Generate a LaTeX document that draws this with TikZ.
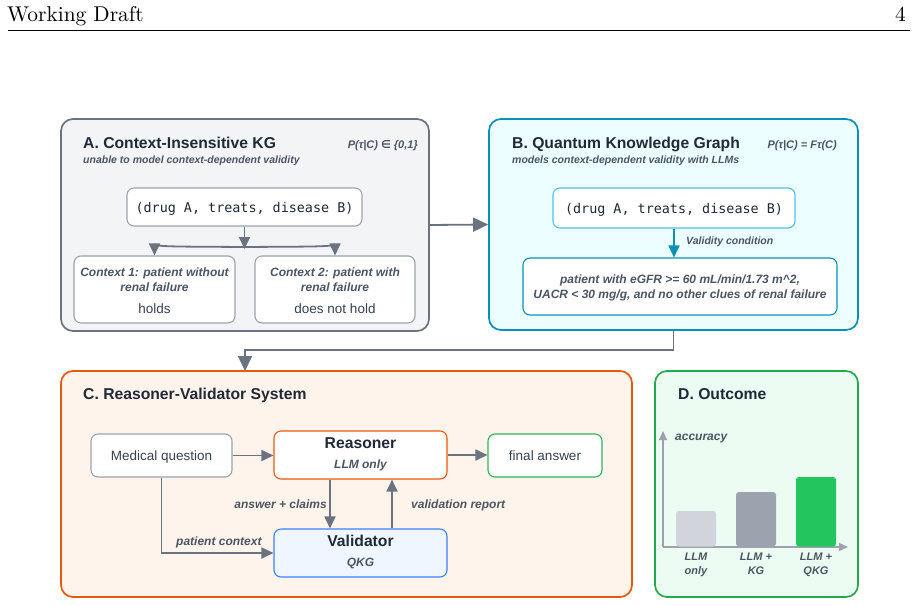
\documentclass[tikz,border=0pt]{standalone}
\usepackage{fontspec}
\usetikzlibrary{arrows.meta}
\newfontfamily\lsans{Liberation Sans}
\newfontfamily\dmono{DejaVu Sans Mono}
\newfontfamily\djv{DejaVu Sans}
\newfontfamily\lmten{lmroman10-regular.otf}
\definecolor{txtdark}{HTML}{1F2937}
\definecolor{txtmid}{HTML}{4B5563}
\definecolor{txtreg}{HTML}{374151}
\definecolor{arrgray}{HTML}{6B7280}
\definecolor{boxgray}{HTML}{9CA3AF}
\definecolor{paFill}{HTML}{F3F4F6}
\definecolor{paDraw}{HTML}{6B7280}
\definecolor{pbFill}{HTML}{ECFEFF}
\definecolor{pbDraw}{HTML}{0891B2}
\definecolor{tbDraw}{HTML}{4CC3EC}
\definecolor{pcFill}{HTML}{FFF4EB}
\definecolor{pcDraw}{HTML}{EA580C}
\definecolor{vFill}{HTML}{EFF6FF}
\definecolor{vDraw}{HTML}{3B82F6}
\definecolor{pdFill}{HTML}{EDFCF2}
\definecolor{pdDraw}{HTML}{22A94B}
\definecolor{finDraw}{HTML}{2FB35A}
\definecolor{barA}{HTML}{D1D5DB}
\definecolor{barB}{HTML}{9CA3AF}
\definecolor{barC}{HTML}{22C55E}
\tikzset{
  panel/.style={rounded corners=12, line width=1.7, inner sep=0},
  box/.style={rounded corners=7, line width=1.1, fill=white, inner sep=0},
  arr/.style={-{Triangle[length=12pt,width=11pt]}, line width=1.8, draw=arrgray},
  bigarr/.style={-{Triangle[length=15pt,width=14pt]}, line width=1.8, draw=arrgray},
  axisline/.style={-{Triangle[length=9pt,width=8pt]}, line width=1.1, draw=boxgray},
  ttl/.style={font=\lsans\bfseries\fontsize{15.7}{18}\selectfont, text=txtdark, anchor=base west, inner sep=0},
  subt/.style={font=\lsans\bfseries\itshape\fontsize{10.5}{12}\selectfont, text=txtmid, inner sep=0},
  frm/.style={font=\lsans\bfseries\itshape\fontsize{11}{13}\selectfont, text=txtmid, inner sep=0},
  lbl/.style={font=\lsans\bfseries\itshape\fontsize{12}{14}\selectfont, text=txtmid, inner sep=0, anchor=mid},
  reg/.style={font=\lsans\fontsize{13.5}{16}\selectfont, text=txtreg, inner sep=0, anchor=mid},
  boxttl/.style={font=\lsans\bfseries\fontsize{15.7}{18}\selectfont, text=txtdark, inner sep=0, anchor=mid},
  mono/.style={font=\dmono\fontsize{13.4}{16}\selectfont, text=txtdark, inner sep=0, anchor=mid},
  barlbl/.style={font=\lsans\bfseries\itshape\fontsize{11}{13}\selectfont, text=txtmid, inner sep=0, anchor=mid},
}
\begin{document}
\begin{tikzpicture}[x=1pt,y=-1pt]
\useasboundingbox (0,0) rectangle (917,605);
% header
\node[anchor=base west, inner sep=0, font=\lmten\fontsize{21.4}{24}\selectfont] (hdr) at (7,21.5) {Working Draft};
\node[anchor=base east, inner sep=0, font=\lmten\fontsize{21.4}{24}\selectfont] (pg) at (906,21.5) {4};
\draw[line width=0.9] (8,30.5) -- (910,30.5);

% ---------- Panel A ----------
\node[panel, draw=paDraw, fill=paFill, minimum width=368, minimum height=212] (A) at (245,225) {};
\node[ttl] (Attl) at (83,148) {A. Context-Insensitive KG};
\node[subt, anchor=base west] (Asub) at (83,163) {unable to model context-dependent validity};
\node[frm, anchor=base east] (Aform) at (418,148) {P(τ|C) {\djv\bfseries\itshape ∈} \{0,1\}};
\node[box, draw=boxgray, minimum width=235, minimum height=38] (tripA) at (244.5,207) {};
\node[mono] (tripAt) at (244.5,210) {(drug A, treats, disease B)};
\node[box, draw=boxgray, minimum width=161, minimum height=67] (ctx1) at (154.5,289.5) {};
\node[box, draw=boxgray, minimum width=160, minimum height=67] (ctx2) at (335,289.5) {};
\node[lbl] (c1a) at (154.5,274.5) {Context 1: patient without};
\node[lbl] (c1b) at (154.5,289.5) {renal failure};
\node[reg] (c1c) at (154.5,311) {holds};
\node[lbl] (c2a) at (335,274.5) {Context 2: patient with};
\node[lbl] (c2b) at (335,289.5) {renal failure};
\node[reg] (c2c) at (335,311) {does not hold};
\coordinate (split) at (244.5,247);
\draw[arr] (tripA.south) -- (244.5,249);
\draw[arr] (split) .. controls (180,246.5) and (154.5,247) .. (ctx1.north);
\draw[arr] (split) .. controls (309,246.5) and (335,247) .. (ctx2.north);

% ---------- Panel B ----------
\node[panel, draw=pbDraw, fill=pbFill, minimum width=369, minimum height=211] (B) at (673.5,224.5) {};
\node[ttl] (Bttl) at (512,148) {B. Quantum Knowledge Graph};
\node[subt, anchor=base west] (Bsub) at (512,163) {models context-dependent validity with LLMs};
\node[frm, anchor=base east] (Bform) at (837,148) {P(τ|C) = Fτ(C)};
\node[box, draw=tbDraw, minimum width=242, minimum height=40] (tripB) at (674,208) {};
\node[mono] (tripBt) at (674,211) {(drug A, treats, disease B)};
\node[box, draw=pbDraw, minimum width=314, minimum height=57] (cond) at (680,286.5) {};
\node[lbl] (cond1) at (680,281.5) {patient with eGFR >= 60 mL/min/1.73 m\textasciicircum 2,};
\node[lbl] (cond2) at (680,296.5) {UACR < 30 mg/g, and no other clues of renal failure};
\draw[-{Triangle[length=12pt,width=11pt]}, line width=1.8, draw=pbDraw, fill=pbDraw] (tripB.south) -- (cond.north -| tripB.south);
\node[subt, anchor=mid west] (vc) at (686,242) {Validity condition};

% A -> B
\draw[bigarr] (A.east) -- (B.west);

% ---------- Panel C ----------
\node[panel, draw=pcDraw, fill=pcFill, minimum width=571, minimum height=226] (C) at (346.5,484) {};
\node[ttl] (Cttl) at (83,399) {C. Reasoner-Validator System};
\node[box, draw=boxgray, minimum width=141, minimum height=43] (medq) at (161.5,455.5) {};
\node[reg] (medqt) at (161.5,458) {Medical question};
\node[box, draw=pcDraw, minimum width=173, minimum height=48] (reas) at (360.5,455) {};
\node[boxttl] (reast) at (360.5,446.5) {Reasoner};
\node[lbl] (reass) at (360.5,466.5) {LLM only};
\node[box, draw=finDraw, minimum width=114, minimum height=43] (fin) at (545,455.5) {};
\node[reg] (fint) at (545,458) {final answer};
\node[box, draw=vDraw, fill=vFill, minimum width=173, minimum height=48] (val) at (360.5,553) {};
\node[boxttl] (valt) at (360.5,544.5) {Validator};
\node[lbl] (vals) at (360.5,564.5) {QKG};
\draw[arr] (medq.east) -- (reas.west |- medq.east);
\draw[arr] (reas.east) -- (fin.west |- reas.east);
\draw[arr] (reas.south -| 330,0) -- (val.north -| 330,0);
\draw[arr] (val.north -| 392,0) -- (reas.south -| 392,0);
\draw[arr] (medq.south) |- (val.west);
\node[lbl, anchor=mid east] (ac) at (327,506.5) {answer + claims};
\node[lbl, anchor=mid west] (vr) at (411,506.5) {validation report};
\node[lbl, anchor=mid west] (pc) at (176,543) {patient context};

% B -> C
\coordinate (cTop) at (245,371);
\draw[bigarr] (B.south) -- (B.south |- 0,350) -| (cTop);

% ---------- Panel D ----------
\node[panel, draw=pdDraw, fill=pdFill, minimum width=203, minimum height=226] (D) at (756.5,484) {};
\node[ttl] (Dttl) at (678,399) {D. Outcome};
\coordinate (orig) at (663,547);
\draw[axisline] (orig) -- (663,431);
\draw[axisline] (orig) -- (848,547);
\node[lbl, anchor=mid west] (accu) at (675,438) {accuracy};
\fill[barA, rounded corners=3] (676,546.5) -- (676,511) -- (716,511) -- (716,546.5) -- cycle;
\fill[barB, rounded corners=3] (736,546.5) -- (736,492) -- (776,492) -- (776,546.5) -- cycle;
\fill[barC, rounded corners=3] (796,546.5) -- (796,477) -- (836,477) -- (836,546.5) -- cycle;
\node[barlbl] (l1a) at (696,558) {LLM};
\node[barlbl] (l1b) at (696,572) {only};
\node[barlbl] (l2a) at (756,558) {LLM +};
\node[barlbl] (l2b) at (756,572) {KG};
\node[barlbl] (l3a) at (816,558) {LLM +};
\node[barlbl] (l3b) at (816,572) {QKG};
\end{tikzpicture}
\end{document}
